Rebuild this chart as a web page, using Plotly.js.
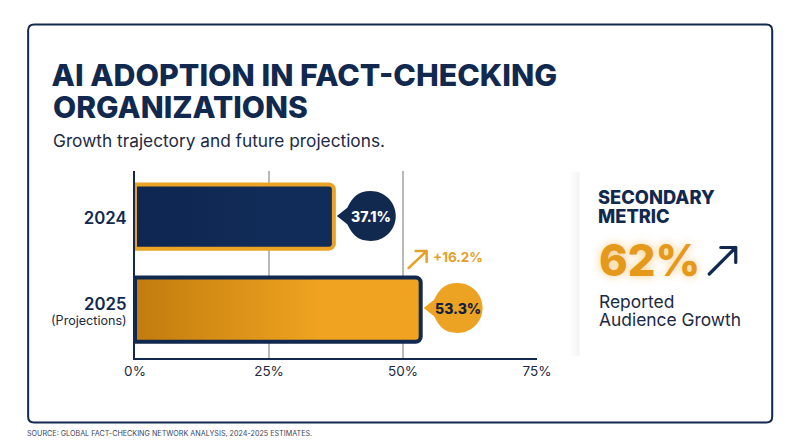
<!DOCTYPE html>
<html><head><meta charset="utf-8">
<script src="https://cdn.plot.ly/plotly-3.0.1.min.js"></script>
<style>html,body{margin:0;padding:0;background:#fff}#c{width:800px;height:447px}
.shapelayer path{stroke-linecap:round;stroke-linejoin:round}</style>
</head><body><div id="c"></div>
<script>
const years = ["2024", "2025"];
const yearNotes = ["", "(Projections)"];
const adoption = [37.1, 53.3];
const barFills = [["#0e2650", "#112c58"], ["#c27c0e", "#efa320"]];
const barBorders = ["#eba325", "#12294f"];
const calloutFills = ["#12294f", "#eca223"];
const calloutText = ["#ffffff", "#12213f"];
const xTicks = [0, 25, 50, 75];
const xTickLabels = ["0%", "25%", "50%", "75%"];

const NAVY = "#12294f", ORANGE = "#e5a029", FONT = "Inter, Roboto, sans-serif";
const L = 134.5, R = 537, T = 171, B = 358;
const W = 800, H = 447;
const X = p => (p - L) / (R - L);
const Y = p => (B - p) / (B - T);
const pt = (x, y) => X(x) + "," + Y(y);
const valPx = v => L + v / 75 * (R - L);

function roundRect(x0, y0, x1, y1, r) {
  return "M" + pt(x0 + r, y0) + " L" + pt(x1 - r, y0) + " Q" + pt(x1, y0) + " " + pt(x1, y0 + r) +
    " L" + pt(x1, y1 - r) + " Q" + pt(x1, y1) + " " + pt(x1 - r, y1) +
    " L" + pt(x0 + r, y1) + " Q" + pt(x0, y1) + " " + pt(x0, y1 - r) +
    " L" + pt(x0, y0 + r) + " Q" + pt(x0, y0) + " " + pt(x0 + r, y0) + " Z";
}
function callout(tipX, cx, cy, r) {
  const k = 0.5523 * r, a = 0.34;
  const ex = cx - r * Math.cos(a), dy = r * Math.sin(a);
  return "M" + pt(tipX, cy) + " L" + pt(ex, cy - dy) +
    " C" + pt(ex + 5, cy - r * 0.72) + " " + pt(cx - k, cy - r) + " " + pt(cx, cy - r) +
    " C" + pt(cx + k, cy - r) + " " + pt(cx + r, cy - k) + " " + pt(cx + r, cy) +
    " C" + pt(cx + r, cy + k) + " " + pt(cx + k, cy + r) + " " + pt(cx, cy + r) +
    " C" + pt(cx - k, cy + r) + " " + pt(ex + 5, cy + r * 0.72) + " " + pt(ex, cy + dy) + " Z";
}
function arrow(x0, y0, x1, y1, head, color, width) {
  return {type: "path", xref: "paper", yref: "paper", layer: "above",
    path: "M" + pt(x0, y0) + " L" + pt(x1, y1) + " M" + pt(x1 - head, y1) + " L" + pt(x1, y1) + " L" + pt(x1, y1 + head),
    line: {color: color, width: width}, fillcolor: "rgba(0,0,0,0)"};
}
function text(str, x, y, size, color, weight, anchor, extra) {
  const a = anchor || "left";
  return Object.assign({text: str, xref: "paper", yref: "paper", x: X(a === "left" ? x - 1.5 : x), y: Y(y), showarrow: false,
    xanchor: a, yanchor: "middle", align: a === "right" ? "right" : "left",
    borderpad: 0, font: {family: FONT, size: size, color: color, weight: weight}}, extra || {});
}

const shapes = [
  {type: "path", xref: "paper", yref: "paper", layer: "below", path: roundRect(27.5, 24.5, 772.5, 422.5, 6),
   line: {color: NAVY, width: 2}, fillcolor: "#ffffff"}
];
[[570, .006], [572, .008], [574, .009], [576, .01], [578, .01]].forEach(s => shapes.push(
  {type: "rect", xref: "paper", yref: "paper", layer: "below", x0: X(s[0]), x1: X(580), y0: Y(356), y1: Y(172),
   line: {width: 0}, fillcolor: "rgba(0,0,0," + s[1] + ")"}));

const centers = [216, 308];
adoption.forEach((v, i) => {
  const tip = valPx(v) + 3;
  shapes.push({type: "path", xref: "paper", yref: "paper", layer: "above",
    path: callout(tip, tip + 34, centers[i], 25), line: {width: 0}, fillcolor: calloutFills[i]});
});
shapes.push(arrow(408.5, 268, 426.5, 251, 11, ORANGE, 2.5));
shapes.push(arrow(709.5, 274, 736, 247.5, 15, NAVY, 3.2));

const annotations = [
  text("ORGANIZATIONS", 53, 107, 30, NAVY, 800),
  text("Growth trajectory and future projections.", 53, 140.5, 17.3, "#1c2a44", 400),
  text("SOURCE: GLOBAL FACT-CHECKING NETWORK ANALYSIS, 2024-2025 ESTIMATES.", 27, 433.5, 7.2, "#3b4660", 400),
  text("+16.2%", 433, 256.5, 13.5, ORANGE, 700),
  text("SECONDARY", 599, 197, 18.3, NAVY, 800),
  text("METRIC", 599, 216, 18.3, NAVY, 800),
  text("62%", 600, 260, 43.5, "#e5991a", 800),
  text("Reported", 600, 301, 17.4, "#1c2a44", 400),
  text("Audience Growth", 600, 319.5, 17.4, "#1c2a44", 400),
  text(yearNotes[1], 127.5, 320.5, 12.6, "#1c2a44", 400, "right")
];
annotations[6].font.shadow = "0 0 8px rgba(235,160,30,0.55)";
adoption.forEach((v, i) => {
  const tip = valPx(v) + 3;
  annotations.push(text(v.toFixed(1) + "%", tip + 34, centers[i], 14, calloutText[i], 800, "center"));
});

const yTicks = [0, 1];
const yTickShift = [1.5, -5];
const data = [{
  type: "bar", orientation: "h", x: adoption, y: yTicks, width: 0.69,
  marker: {color: barFills.map(f => f[1]), line: {color: barBorders, width: 4}},
  hoverinfo: "skip", cliponaxis: true
}];
const layout = {
  width: W, height: H, paper_bgcolor: "#ffffff", plot_bgcolor: "rgba(0,0,0,0)",
  margin: {l: L, r: W - R, t: T, b: H - B, pad: 0},
  showlegend: false, barcornerradius: 5,
  title: {text: "AI ADOPTION IN FACT-CHECKING", x: 51.5 / W, xref: "container", xanchor: "left",
          y: 1 - 75 / H, yref: "container", yanchor: "middle", font: {family: FONT, size: 30.4, color: NAVY, weight: 800}},
  xaxis: {range: [0, 75], tickvals: xTicks, ticktext: xTickLabels, showgrid: true, gridcolor: "#b7b9bd", gridwidth: 1.5,
          zeroline: false, showline: true, linecolor: NAVY, linewidth: 2, ticks: "", ticklen: 0, fixedrange: true,
          tickfont: {family: FONT, size: 13.5, color: "#1c2a44"}},
  yaxis: {range: [1.52, -0.489], tickmode: "array", tickvals: yTicks, ticktext: years, showgrid: false, zeroline: false,
          showline: true, linecolor: NAVY, linewidth: 2, ticks: "", fixedrange: true, ticklabelstandoff: 3,
          tickfont: {family: FONT, size: 16.8, color: NAVY, weight: 600}},
  shapes: shapes, annotations: annotations
};
Plotly.newPlot("c", data, layout, {displayModeBar: false, staticPlot: true}).then(gd => {
  const svg = gd.querySelector(".main-svg");
  const ns = "http://www.w3.org/2000/svg";
  const defs = svg.querySelector("defs") || svg.insertBefore(document.createElementNS(ns, "defs"), svg.firstChild);
  gd.querySelectorAll(".bars .point path").forEach((p, i) => {
    const g = document.createElementNS(ns, "linearGradient");
    g.setAttribute("id", "barfill" + i);
    barFills[i].forEach((c, j) => {
      const s = document.createElementNS(ns, "stop");
      s.setAttribute("offset", j === 0 ? "0%" : "65%");
      s.setAttribute("stop-color", c);
      g.appendChild(s);
    });
    defs.appendChild(g);
    p.style.fill = "url(#barfill" + i + ")";
  });
  gd.querySelectorAll(".ytick text").forEach((t, i) => {
    t.setAttribute("y", parseFloat(t.getAttribute("y") || 0) + yTickShift[i]);
  });
});
</script></body></html>
